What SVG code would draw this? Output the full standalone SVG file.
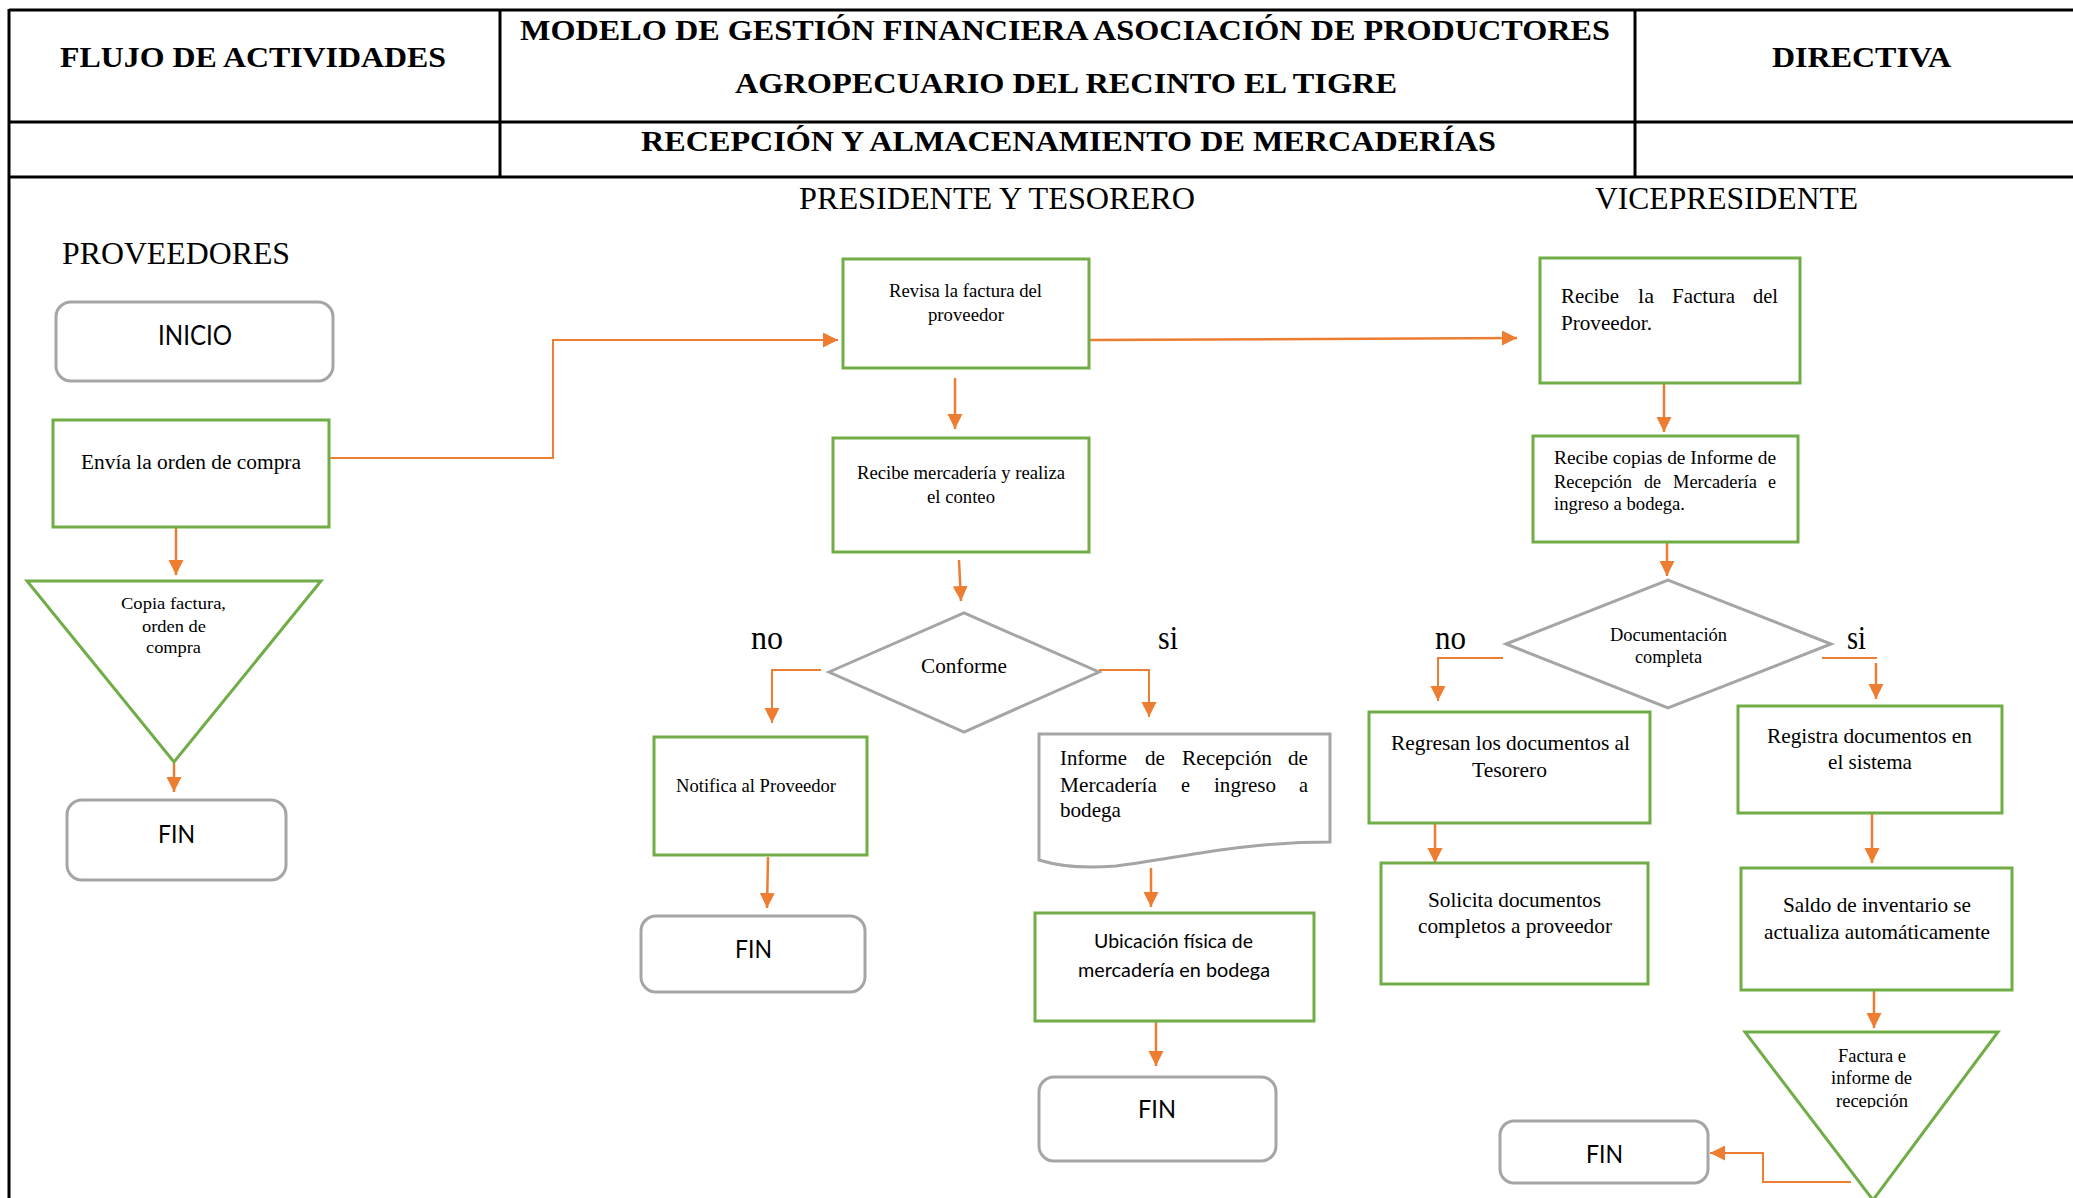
<svg xmlns="http://www.w3.org/2000/svg" width="2073" height="1198" viewBox="0 0 2073 1198">
  <style>
    .frame { fill: none; stroke: #000; stroke-width: 3; }
    .box { fill: #fff; stroke: #70AD47; stroke-width: 3; }
    .term { fill: #fff; stroke: #A5A5A5; stroke-width: 3; }
    .gray { fill: #fff; stroke: #A5A5A5; stroke-width: 3; }
    .conn { fill: none; stroke: #ED7D31; stroke-width: 2.5; }
    .hd { font-family: "Liberation Serif", "Times New Roman", serif; font-weight: bold; font-size: 30px; fill: #000; }
    .lane { font-family: "Liberation Serif", "Times New Roman", serif; font-size: 32px; fill: #000; }
    .t { font-family: "Liberation Serif", "Times New Roman", serif; fill: #000; }
    .s { font-family: Lato, "Liberation Sans", sans-serif; fill: #000; }
  </style>
  <defs>
    <marker id="ah" markerWidth="16" markerHeight="16" refX="15" refY="7.5" orient="auto" markerUnits="userSpaceOnUse">
      <path d="M0,0 L15,7.5 L0,15 Z" fill="#ED7D31"/>
    </marker>
    <clipPath id="triClip">
      <rect x="1740" y="1030" width="270" height="78"/>
    </clipPath>
  </defs>

  <rect width="2073" height="1198" fill="#fff"/>

  <!-- header table -->
  <g id="header">
    <line class="frame" x1="9" y1="10" x2="2073" y2="10"/>
    <line class="frame" x1="9" y1="122" x2="2073" y2="122"/>
    <line class="frame" x1="9" y1="177" x2="2073" y2="177"/>
    <line class="frame" x1="9" y1="9" x2="9" y2="1198"/>
    <line class="frame" x1="500" y1="10" x2="500" y2="177"/>
    <line class="frame" x1="1635" y1="10" x2="1635" y2="177"/>
    <text class="hd" x="60" y="67" textLength="386" lengthAdjust="spacingAndGlyphs">FLUJO DE ACTIVIDADES</text>
    <text class="hd" x="520" y="40" textLength="1090" lengthAdjust="spacingAndGlyphs">MODELO DE GESTIÓN FINANCIERA ASOCIACIÓN DE PRODUCTORES</text>
    <text class="hd" x="735" y="93" textLength="662" lengthAdjust="spacingAndGlyphs">AGROPECUARIO DEL RECINTO EL TIGRE</text>
    <text class="hd" x="641" y="151" textLength="855" lengthAdjust="spacingAndGlyphs">RECEPCIÓN Y ALMACENAMIENTO DE MERCADERÍAS</text>
    <text class="hd" x="1772" y="67" textLength="179" lengthAdjust="spacingAndGlyphs">DIRECTIVA</text>
  </g>

  <!-- lane titles -->
  <g id="lanes">
    <text class="lane" x="62" y="264" textLength="228" lengthAdjust="spacingAndGlyphs">PROVEEDORES</text>
    <text class="lane" x="799" y="209" textLength="396" lengthAdjust="spacingAndGlyphs">PRESIDENTE Y TESORERO</text>
    <text class="lane" x="1595" y="209" textLength="263" lengthAdjust="spacingAndGlyphs">VICEPRESIDENTE</text>
  </g>

  <!-- connectors -->
  <g id="connectors">
    <path class="conn" style="stroke-width:2" d="M330,458 H553 V340 H838" marker-end="url(#ah)"/>
    <path class="conn" d="M176,527 V575" marker-end="url(#ah)"/>
    <path class="conn" d="M174,763 V792" marker-end="url(#ah)"/>
    <path class="conn" d="M1090,340 L1517,338" marker-end="url(#ah)"/>
    <path class="conn" d="M955,378 V429" marker-end="url(#ah)"/>
    <path class="conn" d="M959,560 L961,601" marker-end="url(#ah)"/>
    <path class="conn" style="stroke-width:2" d="M821,670 H772 V723" marker-end="url(#ah)"/>
    <path class="conn" style="stroke-width:2" d="M1099,670 H1149 V717" marker-end="url(#ah)"/>
    <path class="conn" d="M768,857 L767,908" marker-end="url(#ah)"/>
    <path class="conn" d="M1151,868 V907" marker-end="url(#ah)"/>
    <path class="conn" d="M1156,1022 V1066" marker-end="url(#ah)"/>
    <path class="conn" d="M1664,384 V432" marker-end="url(#ah)"/>
    <path class="conn" d="M1667,543 V576" marker-end="url(#ah)"/>
    <path class="conn" style="stroke-width:2" d="M1503,658 H1438 V701" marker-end="url(#ah)"/>
    <path class="conn" style="stroke-width:2" d="M1822,658 H1877"/>
    <path class="conn" d="M1876,663 V699" marker-end="url(#ah)"/>
    <path class="conn" d="M1435,823 V863" marker-end="url(#ah)"/>
    <path class="conn" d="M1872,814 V863" marker-end="url(#ah)"/>
    <path class="conn" d="M1874,991 V1028" marker-end="url(#ah)"/>
    <path class="conn" style="stroke-width:2" d="M1851,1182 H1763 V1153 H1710" marker-end="url(#ah)"/>
  </g>

  <!-- PROVEEDORES -->
  <g id="inicio">
    <rect class="term" x="56" y="302" width="277" height="79" rx="15"/>
    <text class="s" x="158" y="345" font-size="26" textLength="74" lengthAdjust="spacingAndGlyphs">INICIO</text>
  </g>
  <g id="envia-orden">
    <rect class="box" x="53" y="420" width="276" height="107"/>
    <text class="t" x="81" y="469" font-size="20" textLength="220" lengthAdjust="spacingAndGlyphs">Envía la orden de compra</text>
  </g>
  <g id="copia-factura">
    <polygon class="box" points="27,581 321,581 174,762"/>
    <text class="t" x="121" y="609" font-size="17" textLength="105" lengthAdjust="spacingAndGlyphs">Copia factura,</text>
    <text class="t" x="142" y="632" font-size="17" textLength="64" lengthAdjust="spacingAndGlyphs">orden de</text>
    <text class="t" x="146" y="653" font-size="17" textLength="55" lengthAdjust="spacingAndGlyphs">compra</text>
  </g>
  <g id="fin-proveedores">
    <rect class="term" x="67" y="800" width="219" height="80" rx="15"/>
    <text class="s" x="158" y="843" font-size="25" textLength="37" lengthAdjust="spacingAndGlyphs">FIN</text>
  </g>

  <!-- PRESIDENTE Y TESORERO -->
  <g id="revisa-factura">
    <rect class="box" x="843" y="259" width="246" height="109"/>
    <text class="t" x="889" y="297" font-size="19" textLength="153" lengthAdjust="spacingAndGlyphs">Revisa la factura del</text>
    <text class="t" x="928" y="321" font-size="19" textLength="76" lengthAdjust="spacingAndGlyphs">proveedor</text>
  </g>
  <g id="recibe-mercaderia">
    <rect class="box" x="833" y="438" width="256" height="114"/>
    <text class="t" x="857" y="479" font-size="19" textLength="208" lengthAdjust="spacingAndGlyphs">Recibe mercadería y realiza</text>
    <text class="t" x="927" y="503" font-size="19" textLength="68" lengthAdjust="spacingAndGlyphs">el conteo</text>
  </g>
  <g id="conforme">
    <polygon class="gray" points="829,672 964,613 1099,672 964,732"/>
    <text class="t" x="921" y="673" font-size="22" textLength="86" lengthAdjust="spacingAndGlyphs">Conforme</text>
    <text class="t" x="751" y="649" font-size="33" textLength="32" lengthAdjust="spacingAndGlyphs">no</text>
    <text class="t" x="1158" y="649" font-size="33" textLength="20" lengthAdjust="spacingAndGlyphs">si</text>
  </g>
  <g id="notifica-proveedor">
    <rect class="box" x="654" y="737" width="213" height="118"/>
    <text class="t" x="676" y="792" font-size="19" textLength="160" lengthAdjust="spacingAndGlyphs">Notifica al Proveedor</text>
  </g>
  <g id="fin-notifica">
    <rect class="term" x="641" y="916" width="224" height="76" rx="15"/>
    <text class="s" x="735" y="958" font-size="25" textLength="37" lengthAdjust="spacingAndGlyphs">FIN</text>
  </g>
  <g id="informe-recepcion">
    <path class="gray" d="M1039,734 H1330 V842 C1240,842 1180,858 1116,866 C1080,869 1058,866 1039,860 Z"/>
    <g class="t" font-size="22">
      <text x="1060" y="765" textLength="67" lengthAdjust="spacingAndGlyphs">Informe</text>
      <text x="1145" y="765" textLength="20" lengthAdjust="spacingAndGlyphs">de</text>
      <text x="1182" y="765" textLength="90" lengthAdjust="spacingAndGlyphs">Recepción</text>
      <text x="1288" y="765" textLength="20" lengthAdjust="spacingAndGlyphs">de</text>
      <text x="1060" y="792" textLength="97" lengthAdjust="spacingAndGlyphs">Mercadería</text>
      <text x="1181" y="792" textLength="9" lengthAdjust="spacingAndGlyphs">e</text>
      <text x="1214" y="792" textLength="62" lengthAdjust="spacingAndGlyphs">ingreso</text>
      <text x="1299" y="792" textLength="9" lengthAdjust="spacingAndGlyphs">a</text>
      <text x="1060" y="817" textLength="61" lengthAdjust="spacingAndGlyphs">bodega</text>
    </g>
  </g>
  <g id="ubicacion-fisica">
    <rect class="box" x="1035" y="913" width="279" height="108"/>
    <text class="s" x="1094" y="948" font-size="19" textLength="159" lengthAdjust="spacingAndGlyphs">Ubicación física de</text>
    <text class="s" x="1078" y="977" font-size="19" textLength="192" lengthAdjust="spacingAndGlyphs">mercadería en bodega</text>
  </g>
  <g id="fin-ubicacion">
    <rect class="term" x="1039" y="1077" width="237" height="84" rx="15"/>
    <text class="s" x="1138" y="1118" font-size="25" textLength="38" lengthAdjust="spacingAndGlyphs">FIN</text>
  </g>

  <!-- VICEPRESIDENTE -->
  <g id="recibe-factura">
    <rect class="box" x="1540" y="258" width="260" height="125"/>
    <g class="t" font-size="22">
      <text x="1561" y="303" textLength="58" lengthAdjust="spacingAndGlyphs">Recibe</text>
      <text x="1638" y="303" textLength="16" lengthAdjust="spacingAndGlyphs">la</text>
      <text x="1672" y="303" textLength="63" lengthAdjust="spacingAndGlyphs">Factura</text>
      <text x="1753" y="303" textLength="25" lengthAdjust="spacingAndGlyphs">del</text>
      <text x="1561" y="330" textLength="91" lengthAdjust="spacingAndGlyphs">Proveedor.</text>
    </g>
  </g>
  <g id="recibe-copias">
    <rect class="box" x="1533" y="436" width="265" height="106"/>
    <g class="t" font-size="19">
      <text x="1554" y="464" textLength="222" lengthAdjust="spacingAndGlyphs">Recibe copias de Informe de</text>
      <text x="1554" y="488" textLength="78" lengthAdjust="spacingAndGlyphs">Recepción</text>
      <text x="1644" y="488" textLength="17" lengthAdjust="spacingAndGlyphs">de</text>
      <text x="1673" y="488" textLength="84" lengthAdjust="spacingAndGlyphs">Mercadería</text>
      <text x="1768" y="488" textLength="8" lengthAdjust="spacingAndGlyphs">e</text>
      <text x="1554" y="510" textLength="131" lengthAdjust="spacingAndGlyphs">ingreso a bodega.</text>
    </g>
  </g>
  <g id="documentacion-completa">
    <polygon class="gray" points="1506,644 1668,580 1831,644 1668,708"/>
    <text class="t" x="1610" y="641" font-size="19" textLength="117" lengthAdjust="spacingAndGlyphs">Documentación</text>
    <text class="t" x="1635" y="663" font-size="19" textLength="67" lengthAdjust="spacingAndGlyphs">completa</text>
    <text class="t" x="1435" y="649" font-size="33" textLength="31" lengthAdjust="spacingAndGlyphs">no</text>
    <text class="t" x="1847" y="649" font-size="33" textLength="19" lengthAdjust="spacingAndGlyphs">si</text>
  </g>
  <g id="regresan-documentos">
    <rect class="box" x="1369" y="712" width="281" height="111"/>
    <text class="t" x="1391" y="750" font-size="22" textLength="239" lengthAdjust="spacingAndGlyphs">Regresan los documentos al</text>
    <text class="t" x="1472" y="777" font-size="22" textLength="75" lengthAdjust="spacingAndGlyphs">Tesorero</text>
  </g>
  <g id="solicita-documentos">
    <rect class="box" x="1381" y="863" width="267" height="121"/>
    <text class="t" x="1428" y="907" font-size="22" textLength="173" lengthAdjust="spacingAndGlyphs">Solicita documentos</text>
    <text class="t" x="1418" y="933" font-size="22" textLength="194" lengthAdjust="spacingAndGlyphs">completos a proveedor</text>
  </g>
  <g id="registra-documentos">
    <rect class="box" x="1738" y="706" width="264" height="107"/>
    <text class="t" x="1767" y="743" font-size="22" textLength="205" lengthAdjust="spacingAndGlyphs">Registra documentos en</text>
    <text class="t" x="1828" y="769" font-size="22" textLength="84" lengthAdjust="spacingAndGlyphs">el sistema</text>
  </g>
  <g id="saldo-inventario">
    <rect class="box" x="1741" y="868" width="271" height="122"/>
    <text class="t" x="1783" y="912" font-size="22" textLength="188" lengthAdjust="spacingAndGlyphs">Saldo de inventario se</text>
    <text class="t" x="1764" y="939" font-size="22" textLength="226" lengthAdjust="spacingAndGlyphs">actualiza automáticamente</text>
  </g>
  <g id="factura-informe">
    <polygon class="box" points="1745,1032 1998,1032 1873,1200"/>
    <g class="t" font-size="19" clip-path="url(#triClip)">
      <text x="1838" y="1062" textLength="68" lengthAdjust="spacingAndGlyphs">Factura e</text>
      <text x="1831" y="1084" textLength="81" lengthAdjust="spacingAndGlyphs">informe de</text>
      <text x="1836" y="1107" textLength="72" lengthAdjust="spacingAndGlyphs">recepción</text>
    </g>
  </g>
  <g id="fin-vicepresidente">
    <rect class="term" x="1500" y="1121" width="208" height="62" rx="14"/>
    <text class="s" x="1586" y="1163" font-size="25" textLength="37" lengthAdjust="spacingAndGlyphs">FIN</text>
  </g>
</svg>
